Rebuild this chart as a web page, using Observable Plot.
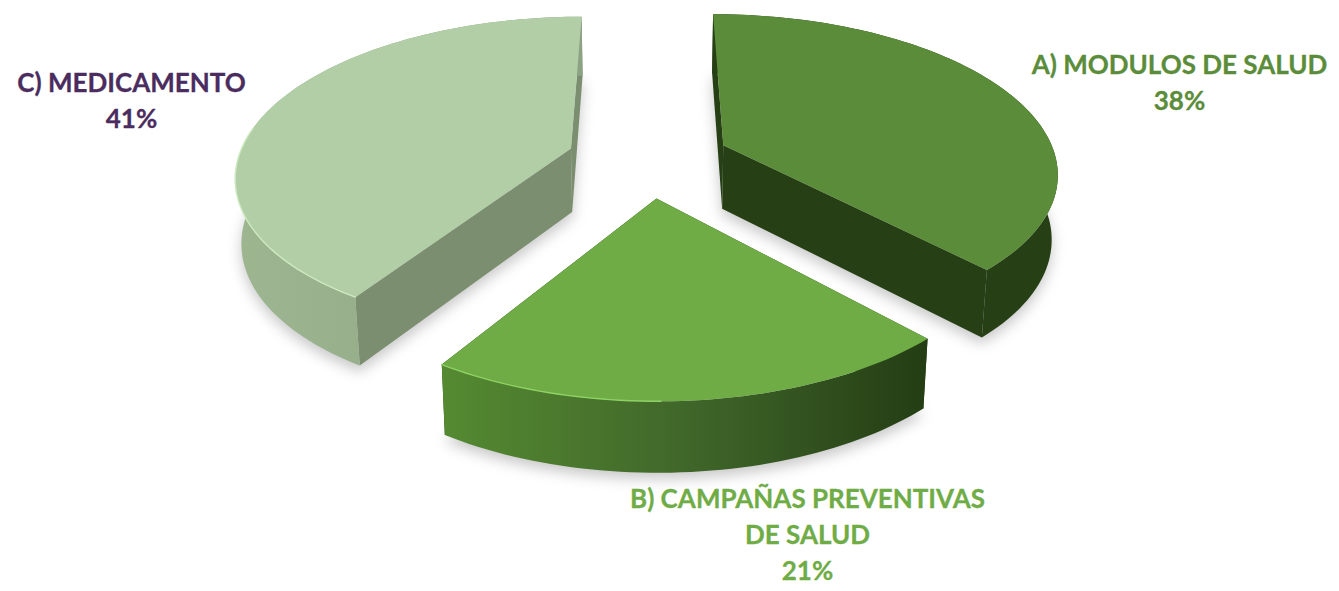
<!DOCTYPE html>
<html><head><meta charset="utf-8">
<style>html,body{margin:0;padding:0;background:#fff}</style>
<script src="https://cdn.jsdelivr.net/npm/d3@7"></script>
<script src="https://cdn.jsdelivr.net/npm/@observablehq/plot@0.6"></script>
</head><body><div id="chart"></div>
<script>
const labels = ["A) MODULOS DE SALUD\n38%", "B) CAMPAÑAS PREVENTIVAS\nDE SALUD\n21%", "C) MEDICAMENTO\n41%"];
const shares = [38, 21, 41];

const W = 1339, H = 591;
// Perspective disc model
const view = {cx: 648, cy: 158.5, a: 333, b: 156, p: 0.16, explode: 0.245, h: 64, k: 0.985};
const styles = [
  {top: "#5b8c3a", inner: "#263f15", outer: "#263f15", rim: null},
  {top: "#6fac46", inner: "#263f15", outer: "url(#wallB)", rim: "#8fd264"},
  {top: "#b1cea6", inner: "#7b8e70", outer: "url(#wallC)", rim: "#cdeabf"}
];
const labelPos = [{x: 1179, y: 65, c: "#5b8c3a"}, {x: 807, y: 499, c: "#6fac46"}, {x: 131, y: 83, c: "#4a2c5e"}];
const labelGap = 36;

function project(X, Y, bottom) {
  const w = 1 + view.p * Y;
  const sx = view.cx + view.a * X / w, sy = view.cy - view.b * Y / w;
  if (!bottom) return {x: sx, y: sy};
  return {x: view.cx + (sx - view.cx) * view.k, y: sy + view.h / Math.sqrt(w)};
}
const arcs = d3.pie().sort(null).value(d => d)(shares);
const wedges = arcs.map((d, i) => {
  const mid = (d.startAngle + d.endAngle) / 2;
  const ox = view.explode * Math.sin(mid), oy = view.explode * Math.cos(mid);
  const n = Math.ceil((d.endAngle - d.startAngle) * 40);
  const angles = d3.range(n + 1).map(j => d.startAngle + (d.endAngle - d.startAngle) * j / n);
  const disc = angles.map(t => [ox + Math.sin(t), oy + Math.cos(t)]);
  const rimTop = disc.map(q => project(q[0], q[1], false));
  const rimBot = disc.map(q => project(q[0], q[1], true));
  const apexTop = project(ox, oy, false), apexBot = project(ox, oy, true);
  return {i, rimTop, rimBot, apexTop, apexBot, angles, style: styles[i]};
});

const poly = (data, fill, extra = {}) => Plot.line(data, {x: "x", y: "y", fill, stroke: "none", ...extra});
const marks = [];
marks.push(() => {
  const defs = d3.create("svg:defs");
  const grad = (id, stops) => {
    const g = defs.append("linearGradient").attr("id", id).attr("x1", 0).attr("x2", 1).attr("y1", 0).attr("y2", 0);
    stops.forEach(([o, c]) => g.append("stop").attr("offset", o).attr("stop-color", c));
  };
  grad("wallB", [[0, "#558a31"], [0.5, "#40672a"], [1, "#243d14"]]);
  grad("wallC", [[0, "#9db690"], [1, "#8da283"]]);
  return defs.node();
});
// soft shadows under each slice
for (const w of wedges) {
  const outline = [w.apexBot, ...w.rimBot].map(q => ({x: q.x, y: q.y + 6}));
  marks.push(poly(outline, "#000", {fillOpacity: 0.22, imageFilter: "blur(7px)"}));
}
for (const i of [2, 0, 1]) {
  const w = wedges[i], s = w.style;
  const last = w.rimTop.length - 1;
  marks.push(poly([w.apexTop, w.rimTop[0], w.rimBot[0], w.apexBot], s.inner));
  marks.push(poly([w.apexTop, w.rimTop[last], w.rimBot[last], w.apexBot], s.inner));
  marks.push(poly([...w.rimTop, ...w.rimBot.slice().reverse()], s.outer));
  marks.push(poly([w.apexTop, ...w.rimTop], s.top));
  if (s.rim) {
    const front = w.rimTop.filter((q, j) => i === 1 ? j > last * 0.55 : j < last * 0.45);
    marks.push(Plot.line(front, {x: "x", y: "y", stroke: s.rim, strokeWidth: 1.4}));
  }
}
labels.forEach((t, i) => {
  const lines = t.split("\n").map((text, j) => ({text, x: labelPos[i].x, y: labelPos[i].y + j * labelGap}));
  marks.push(Plot.text(lines, {x: "x", y: "y", text: "text", fill: labelPos[i].c, stroke: labelPos[i].c, strokeWidth: 0.3, fontSize: 26, fontWeight: 700, fontFamily: "Lato", textAnchor: "middle"}));
});

document.getElementById("chart").append(Plot.plot({
  width: W, height: H, margin: 0,
  x: {domain: [0, W], range: [0, W], axis: null},
  y: {domain: [0, H], range: [0, H], axis: null},
  marks
}));
</script></body></html>
